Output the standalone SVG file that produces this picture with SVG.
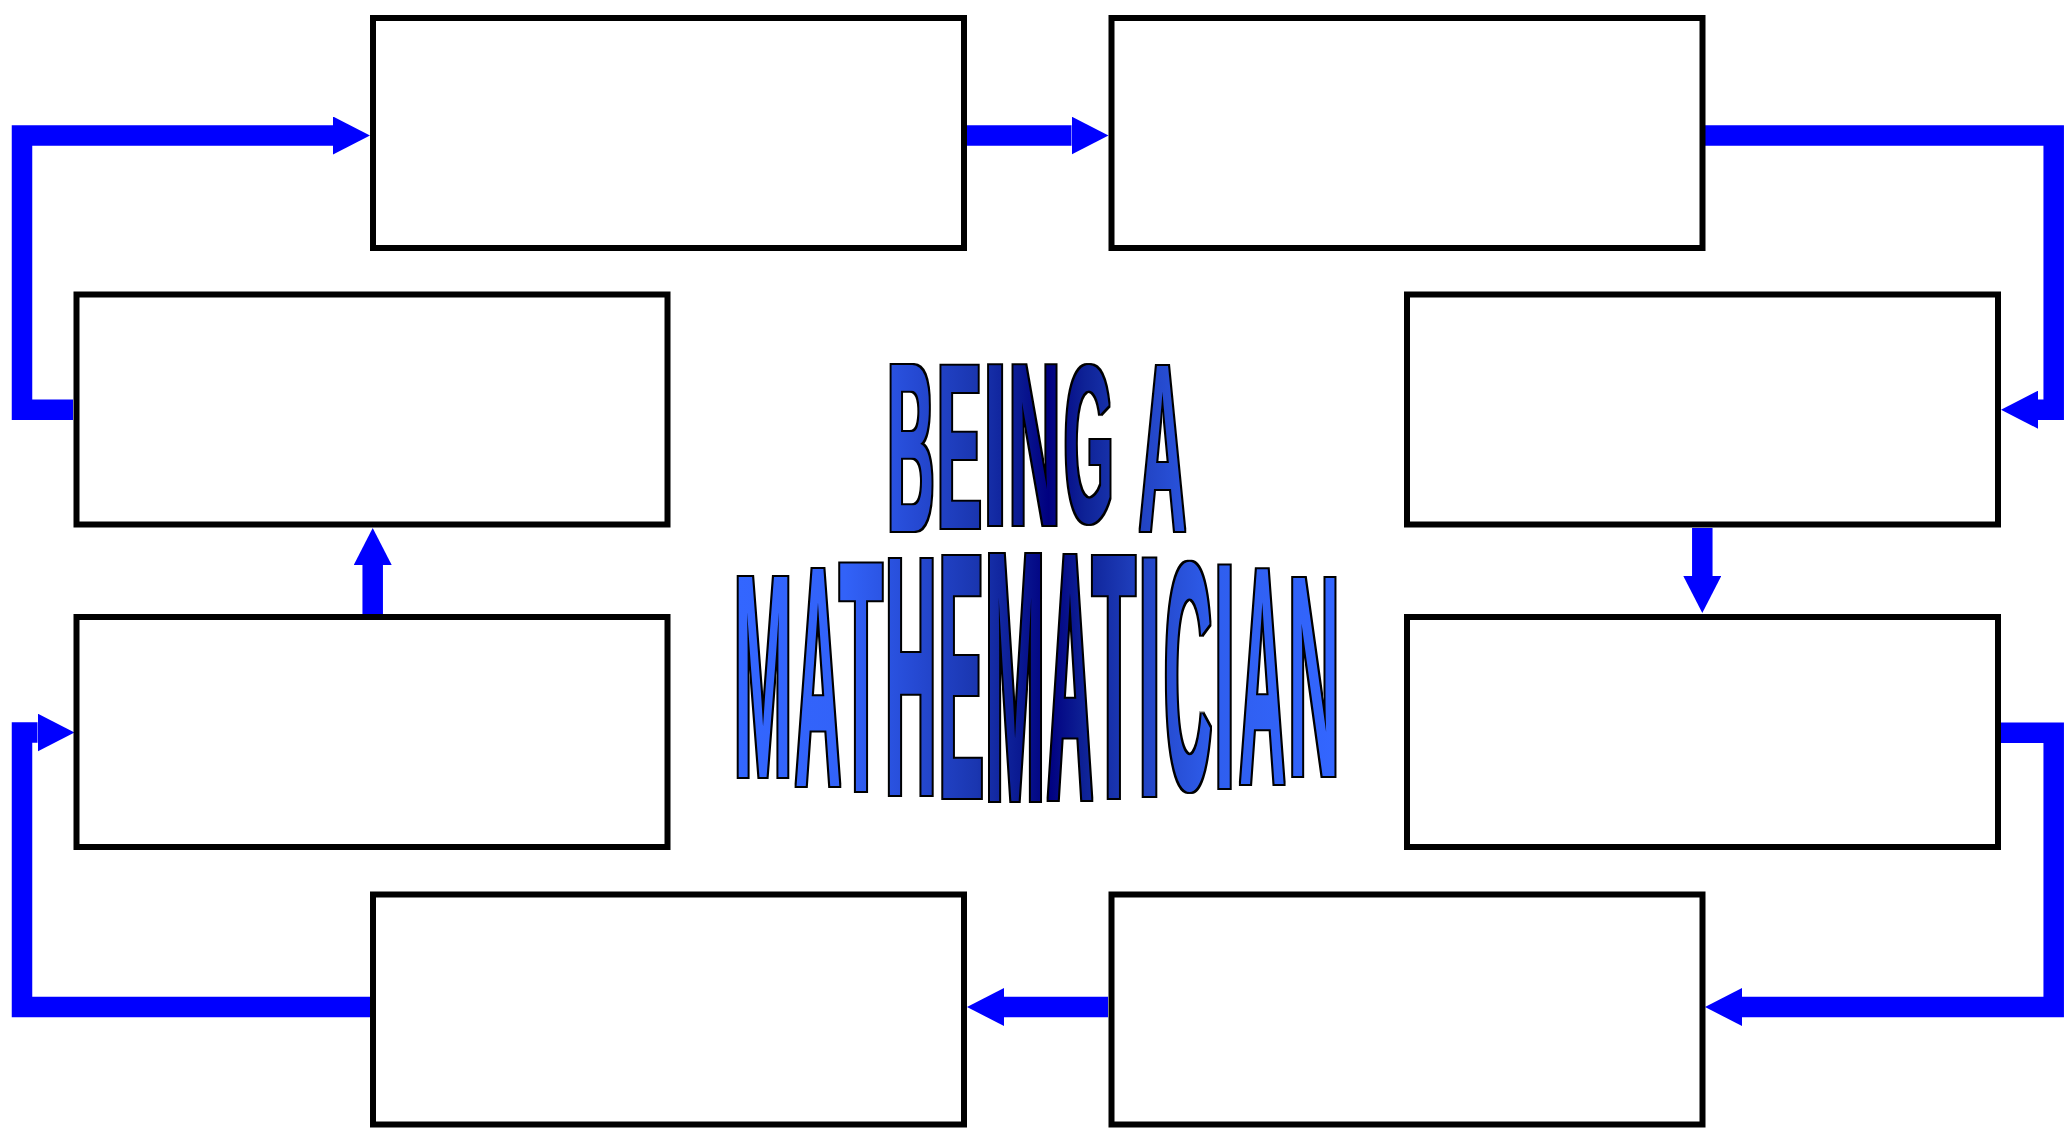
<svg xmlns="http://www.w3.org/2000/svg" xmlns:xlink="http://www.w3.org/1999/xlink" width="2067" height="1128" viewBox="0 0 2067 1128">
<style>
.box{fill:#fff;stroke:#000;stroke-width:6}
.conn{fill:none;stroke:#0000FF;stroke-width:20.5;stroke-linejoin:miter;stroke-linecap:butt;marker-end:url(#ah)}
text.wat{font-family:"Liberation Sans",Arial,sans-serif;font-weight:bold}
</style>
<defs>
<marker id="ah" markerUnits="userSpaceOnUse" markerWidth="37" markerHeight="38" viewBox="0 0 37 38" refX="0" refY="19" orient="auto">
<path d="M0,0 L37,19 L0,38 Z" fill="#0000FF"/>
</marker>
<linearGradient id="wa-grad" gradientUnits="userSpaceOnUse" x1="737" y1="0" x2="1336" y2="0">
<stop offset="0" stop-color="#3366FF"/>
<stop offset="0.18" stop-color="#3262F8"/>
<stop offset="0.3" stop-color="#2549D2"/>
<stop offset="0.4" stop-color="#1A36B0"/>
<stop offset="0.47" stop-color="#0A1A92"/>
<stop offset="0.52" stop-color="#000080"/>
<stop offset="0.58" stop-color="#0E2296"/>
<stop offset="0.68" stop-color="#2244C4"/>
<stop offset="0.8" stop-color="#2F5EEE"/>
<stop offset="1" stop-color="#3366FF"/>
</linearGradient>
<filter id="wa-dilate" x="-5%" y="-5%" width="110%" height="110%">
<feMorphology operator="dilate" radius="2"/>
</filter>
<mask id="wa-mask" maskUnits="userSpaceOnUse" x="0" y="0" width="2067" height="1128">
<use href="#wa-letters" xlink:href="#wa-letters" fill="#fff"/>
</mask>
</defs>

<g id="connectors">
<path class="conn" d="M73,409.7 H22 V135.5 H333"/>
<path class="conn" d="M966,135.5 H1071.5"/>
<path class="conn" d="M1705,135.5 H2053.7 V409.7 H2038"/>
<path class="conn" d="M1702.3,528 V576"/>
<path class="conn" d="M2001,732.7 H2053.7 V1007 H1742"/>
<path class="conn" d="M1108,1007 H1004"/>
<path class="conn" d="M370,1007 H22 V732.5 H37.5"/>
<path class="conn" d="M372.7,614 V565"/>
</g>

<g id="node-top-left"><rect class="box" x="373" y="18" width="591" height="230"/></g>
<g id="node-top-right"><rect class="box" x="1111.5" y="18" width="591" height="230"/></g>
<g id="node-right-upper"><rect class="box" x="1407" y="294.5" width="591" height="230"/></g>
<g id="node-right-lower"><rect class="box" x="1407" y="617" width="591" height="230"/></g>
<g id="node-bottom-right"><rect class="box" x="1111.5" y="894.5" width="591" height="230"/></g>
<g id="node-bottom-left"><rect class="box" x="373" y="894.5" width="591" height="230"/></g>
<g id="node-left-lower"><rect class="box" x="76.5" y="617" width="591" height="230"/></g>
<g id="node-left-upper"><rect class="box" x="76.5" y="294.5" width="591" height="230"/></g>

<g id="title">
<g filter="url(#wa-dilate)" fill="#000">
<g id="wa-letters">
<text class="wat" transform="scale(1,3)"><tspan x="887.24" y="177.1" font-size="80.43" textLength="47.2" lengthAdjust="spacingAndGlyphs">B</tspan><tspan x="937.1" y="176" font-size="78.82" textLength="44.7" lengthAdjust="spacingAndGlyphs">E</tspan><tspan x="983.42" y="175" font-size="77.52" textLength="23.2" lengthAdjust="spacingAndGlyphs">I</tspan><tspan x="1008.71" y="175" font-size="77.52" textLength="51.6" lengthAdjust="spacingAndGlyphs">N</tspan><tspan x="1064.08" y="174.07" font-size="74.81" textLength="49.4" lengthAdjust="spacingAndGlyphs">G</tspan> <tspan x="1139" y="176.9" font-size="80.13" textLength="47" lengthAdjust="spacingAndGlyphs">A</tspan> <tspan x="734.06" y="259" font-size="96.9" textLength="57.9" lengthAdjust="spacingAndGlyphs">M</tspan><tspan x="795" y="262" font-size="105.13" textLength="46" lengthAdjust="spacingAndGlyphs">A</tspan><tspan x="839.44" y="263.67" font-size="110.22" textLength="43.1" lengthAdjust="spacingAndGlyphs">T</tspan><tspan x="885.09" y="265" font-size="114.34" textLength="51.4" lengthAdjust="spacingAndGlyphs">H</tspan><tspan x="938.8" y="266" font-size="117.25" textLength="44.7" lengthAdjust="spacingAndGlyphs">E</tspan><tspan x="985.21" y="267" font-size="119.67" textLength="59.6" lengthAdjust="spacingAndGlyphs">M</tspan><tspan x="1047" y="266.67" font-size="118.7" textLength="46" lengthAdjust="spacingAndGlyphs">A</tspan><tspan x="1092.13" y="266" font-size="117.25" textLength="43.4" lengthAdjust="spacingAndGlyphs">T</tspan><tspan x="1138.31" y="265.33" font-size="115.07" textLength="22.4" lengthAdjust="spacingAndGlyphs">I</tspan><tspan x="1164.16" y="262.98" font-size="108.46" textLength="47.7" lengthAdjust="spacingAndGlyphs">C</tspan><tspan x="1214.46" y="262.67" font-size="107.8" textLength="20.1" lengthAdjust="spacingAndGlyphs">I</tspan><tspan x="1239.3" y="261.33" font-size="104.02" textLength="46" lengthAdjust="spacingAndGlyphs">A</tspan><tspan x="1288.5" y="258.67" font-size="95.93" textLength="50.7" lengthAdjust="spacingAndGlyphs">N</tspan></text>
</g>
</g>
<rect x="715" y="345" width="650" height="480" fill="url(#wa-grad)" mask="url(#wa-mask)"/>
</g>
</svg>
